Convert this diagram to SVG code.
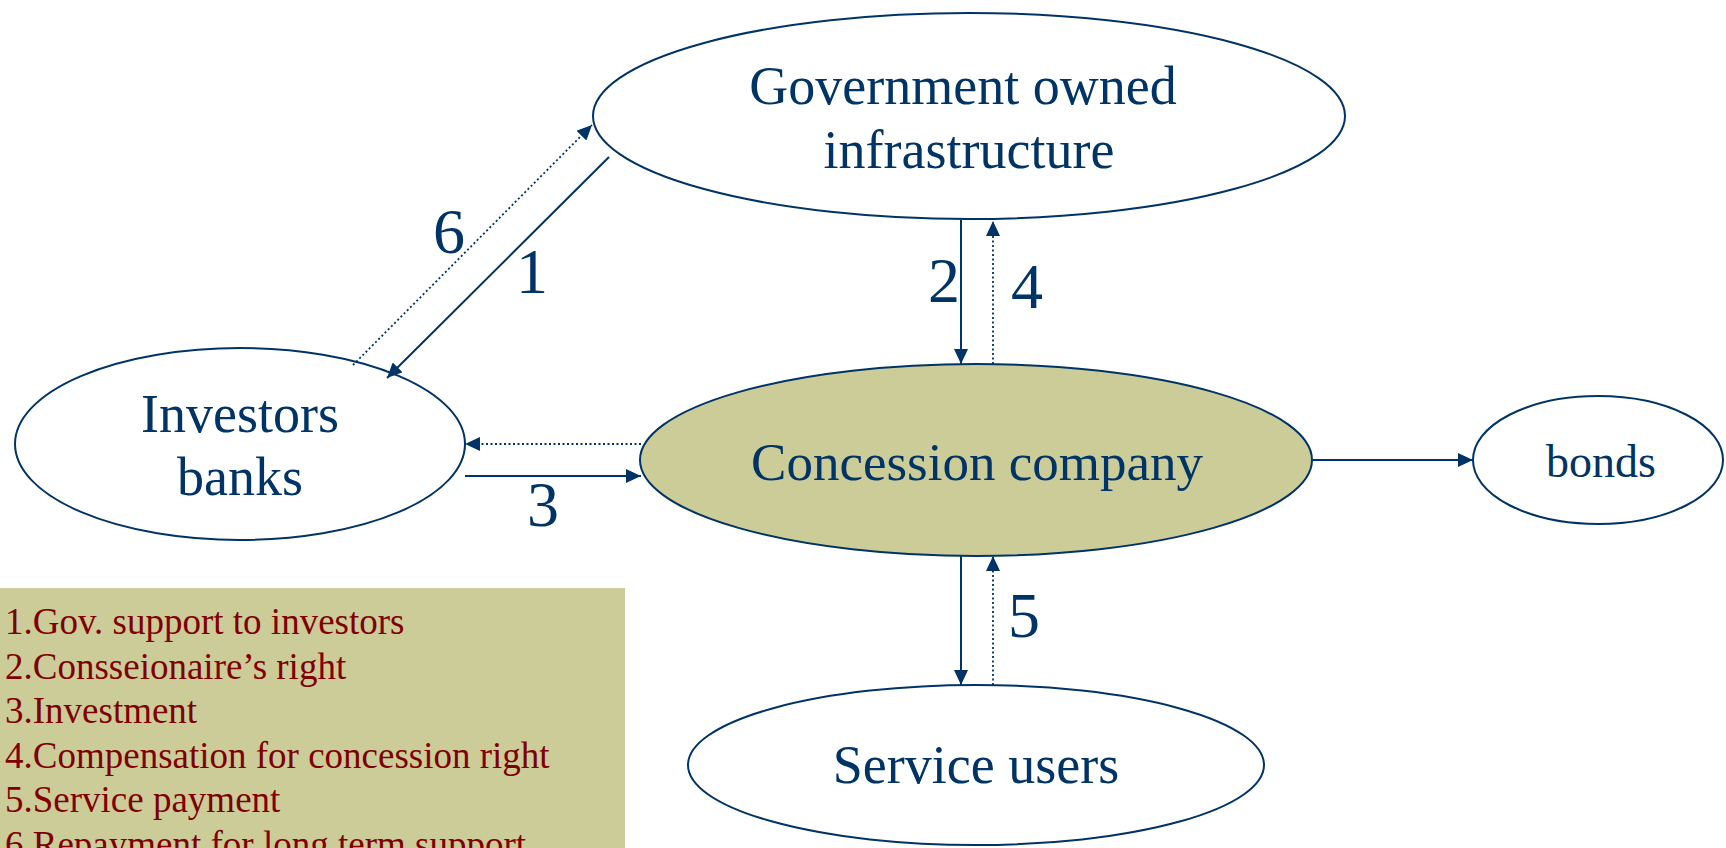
<svg xmlns="http://www.w3.org/2000/svg" width="1726" height="848" viewBox="0 0 1726 848">
<style>
.node{fill:#FFFFFF;stroke:#003366;stroke-width:2}
.main{fill:#CCCC99;stroke:#003366;stroke-width:2}
.lbl{font-family:"Liberation Serif","Times New Roman",serif;fill:#003366;text-anchor:middle}
.big{font-size:54px}
.num{font-family:"Liberation Serif","Times New Roman",serif;fill:#003366;font-size:64px;text-anchor:middle}
.solid{stroke:#003366;stroke-width:2;fill:none;marker-end:url(#ah)}
.dot{stroke:#003366;stroke-width:1.8;fill:none;stroke-dasharray:2 2.5;marker-end:url(#ah)}
.leg{font-family:"Liberation Serif","Times New Roman",serif;fill:#800000;font-size:37px}
</style>
<defs>
<marker id="ah" markerUnits="userSpaceOnUse" markerWidth="16" markerHeight="14" refX="15" refY="7" orient="auto">
<path d="M0,0 L15,7 L0,14 z" fill="#003366"/>
</marker>
</defs>
<rect x="0" y="0" width="1726" height="848" fill="#FFFFFF"/>
<g id="legend">
<rect x="0" y="588" width="625" height="262" fill="#CCCC99"/>
<text class="leg" x="5" y="634">1.Gov. support to investors</text>
<text class="leg" x="5" y="679">2.Consseionaire’s right</text>
<text class="leg" x="5" y="723">3.Investment</text>
<text class="leg" x="5" y="768">4.Compensation for concession right</text>
<text class="leg" x="5" y="812">5.Service payment</text>
<text class="leg" x="5" y="857">6.Repayment for long term support</text>
</g>
<g id="gov">
<ellipse class="node" cx="969" cy="116" rx="376" ry="103"/>
<text class="lbl big" x="963" y="104">Government owned</text>
<text class="lbl big" x="969" y="168">infrastructure</text>
</g>
<g id="investors">
<ellipse class="node" cx="240" cy="444" rx="225" ry="96"/>
<text class="lbl big" x="240" y="432">Investors</text>
<text class="lbl big" x="240" y="495">banks</text>
</g>
<g id="concession">
<ellipse class="main" cx="976" cy="460" rx="336" ry="96"/>
<text class="lbl" style="font-size:53px" x="977" y="480">Concession company</text>
</g>
<g id="bonds">
<ellipse class="node" cx="1598" cy="460" rx="125" ry="64"/>
<text class="lbl" style="font-size:46px" x="1601" y="477">bonds</text>
</g>
<g id="users">
<ellipse class="node" cx="976" cy="765" rx="288" ry="80"/>
<text class="lbl big" x="976" y="783">Service users</text>
</g>
<g id="connectors">
<path class="solid" d="M609,157 L387,378"/>
<path class="dot" d="M353,365 L592,125"/>
<path class="solid" d="M961,220 L961,364"/>
<path class="dot" d="M993,364 L993,221"/>
<path class="dot" d="M641,444 L465,444"/>
<path class="solid" d="M465,476 L641,476"/>
<path class="solid" d="M1313,460 L1473,460"/>
<path class="solid" d="M961,556 L961,685"/>
<path class="dot" d="M993,685 L993,556"/>
<text class="num" x="449" y="253">6</text>
<text class="num" x="532" y="293">1</text>
<text class="num" x="944" y="302">2</text>
<text class="num" x="1027" y="308">4</text>
<text class="num" x="543" y="526">3</text>
<text class="num" x="1024" y="637">5</text>
</g>
</svg>
